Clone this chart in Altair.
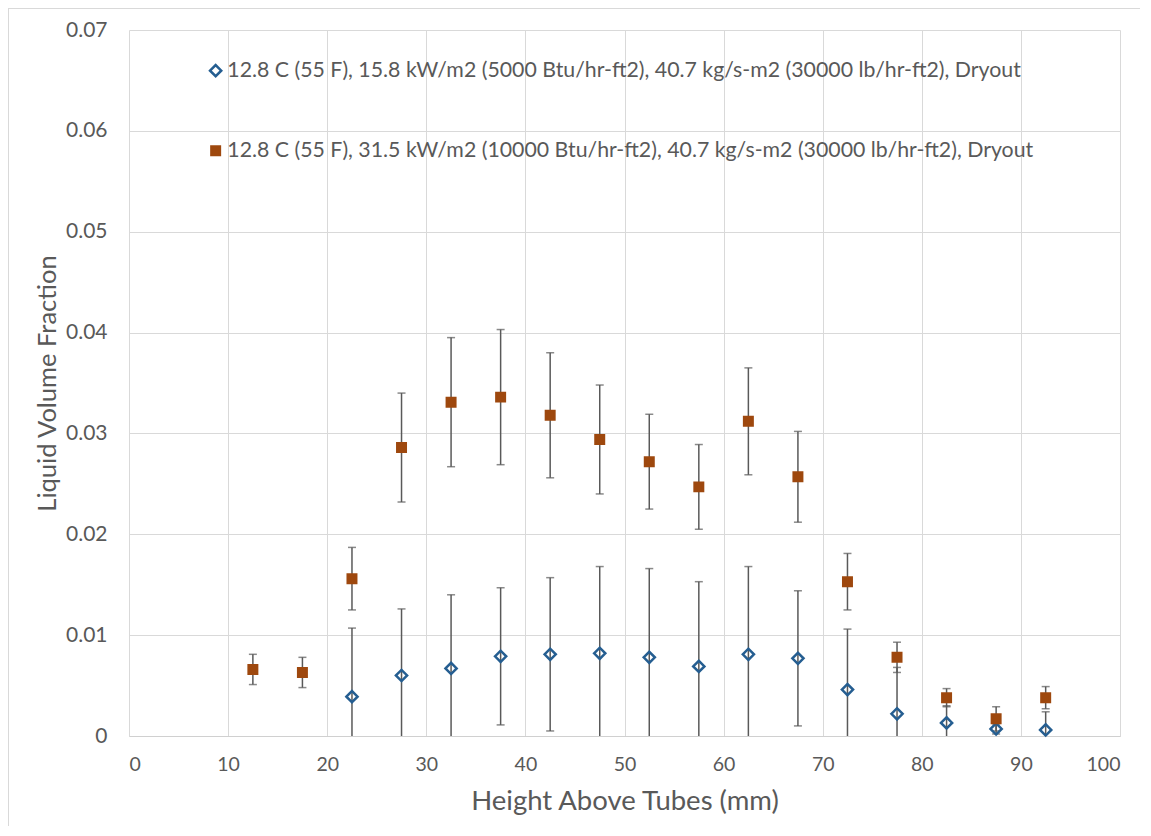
import altair as alt
import pandas as pd

# ---- data ----
series_names = [
    "12.8 C (55 F), 15.8 kW/m2 (5000 Btu/hr-ft2), 40.7 kg/s-m2 (30000 lb/hr-ft2), Dryout",
    "12.8 C (55 F), 31.5 kW/m2 (10000 Btu/hr-ft2), 40.7 kg/s-m2 (30000 lb/hr-ft2), Dryout",
]

x_blue = [22.5, 27.5, 32.5, 37.5, 42.5, 47.5, 52.5, 57.5, 62.5, 67.5, 72.5, 77.5, 82.5, 87.5, 92.5]
y_blue = [0.0039, 0.0060, 0.0067, 0.0079, 0.0081, 0.0082, 0.0078, 0.0069, 0.0081, 0.0077,
          0.0046, 0.0022, 0.0013, 0.0007, 0.0006]
err_blue = [0.0068, 0.0066, 0.0073, 0.0068, 0.0076, 0.0086, 0.0088, 0.0084, 0.0087, 0.0067,
            0.0060, 0.0046, 0.0017, 0.0005, 0.0018]

x_orange = [12.5, 17.5, 22.5, 27.5, 32.5, 37.5, 42.5, 47.5, 52.5, 57.5, 62.5, 67.5,
            72.5, 77.5, 82.5, 87.5, 92.5]
y_orange = [0.0066, 0.0063, 0.0156, 0.0286, 0.0331, 0.0336, 0.0318, 0.0294, 0.0272, 0.0247,
            0.0312, 0.0257, 0.0153, 0.0078, 0.0038, 0.0017, 0.0038]
err_orange = [0.0015, 0.0015, 0.0031, 0.0054, 0.0064, 0.0067, 0.0062, 0.0054, 0.0047, 0.0042,
              0.0053, 0.0045, 0.0028, 0.0015, 0.0009, 0.0012, 0.0011]

x_ticks = [0, 10, 20, 30, 40, 50, 60, 70, 80, 90, 100]
y_ticks = [0, 0.01, 0.02, 0.03, 0.04, 0.05, 0.06, 0.07]

colors = ["#255e91", "#9e480e"]
fills = ["transparent", "#9e480e"]
shapes = ["diamond", "square"]
sizes = [125, 72]

FONT = "Lato"
GRAY = "#595959"

df = pd.concat([
    pd.DataFrame({"series": series_names[0], "x": x_blue, "y": y_blue, "err": err_blue}),
    pd.DataFrame({"series": series_names[1], "x": x_orange, "y": y_orange, "err": err_orange}),
], ignore_index=True)

xscale = alt.Scale(domain=[0, 100], nice=False)
yscale = alt.Scale(domain=[0, 0.07], nice=False)

X = alt.X("x:Q", scale=xscale,
          axis=alt.Axis(values=x_ticks, title="Height Above Tubes (mm)", format="d",
                        titleFontSize=27.5, titlePadding=14))
Y = alt.Y("y:Q", scale=yscale,
          axis=alt.Axis(values=y_ticks, title="Liquid Volume Fraction",
                        titleFontSize=25.5, titlePadding=5,
                        labelExpr="datum.value == 0 ? '0' : format(datum.value, '.2f')"))

base = alt.Chart(df).transform_calculate(
    lo="datum.y - datum.err", hi="datum.y + datum.err"
)

rules = base.mark_rule(color=GRAY, strokeWidth=1.5, clip=True).encode(
    x=alt.X("x:Q", scale=xscale),
    y=alt.Y("lo:Q", scale=yscale),
    y2="hi:Q",
)
cap_hi = base.mark_tick(color=GRAY, thickness=1.5, size=8, orient="horizontal", clip=True).encode(
    x=alt.X("x:Q", scale=xscale), y=alt.Y("hi:Q", scale=yscale))
cap_lo = base.mark_tick(color=GRAY, thickness=1.5, size=8, orient="horizontal", clip=True).encode(
    x=alt.X("x:Q", scale=xscale), y=alt.Y("lo:Q", scale=yscale))

legend = alt.Legend(
    title=None, orient="none", legendX=76, legendY=30, padding=0,
    rowPadding=57, labelOffset=1, labelLimit=2000,
    labelFont=FONT, labelFontSize=21.3, labelColor=GRAY, symbolStrokeWidth=2.5,
)

points = base.mark_point(opacity=1, strokeWidth=2.5).encode(
    x=X, y=Y,
    shape=alt.Shape("series:N", scale=alt.Scale(domain=series_names, range=shapes), legend=legend),
    stroke=alt.Stroke("series:N", scale=alt.Scale(domain=series_names, range=colors), legend=legend),
    fill=alt.Fill("series:N", scale=alt.Scale(domain=series_names, range=fills), legend=legend),
    size=alt.Size("series:N", scale=alt.Scale(domain=series_names, range=sizes), legend=legend),
)

# chart-area border (top and left edges)
border_top = alt.Chart(df).mark_rule(color="#d9d9d9", strokeWidth=1).encode(
    x=alt.value(-121), x2=alt.value(1030), y=alt.value(-21.5))
border_left = alt.Chart(df).mark_rule(color="#d9d9d9", strokeWidth=1).encode(
    x=alt.value(-120.5), y=alt.value(-22), y2=alt.value(820))

chart = alt.layer(border_top, border_left, rules, cap_hi, cap_lo, points).properties(
    width=991, height=706,
    autosize=alt.AutoSizeParams(type="none"),
    padding={"left": 121, "top": 22, "right": 20, "bottom": 90},
    background="white",
).configure_view(stroke=None).configure_axis(
    grid=True, gridColor="#d9d9d9", gridWidth=1, ticks=False,
    labelFont=FONT, labelColor=GRAY,
    titleFont=FONT, titleColor=GRAY, titleFontWeight="normal",
).configure_axisY(
    domain=False, labelPadding=22, labelFontSize=21,
).configure_axisX(
    domain=True, domainColor="#d0d0d0", domainWidth=1, labelPadding=19,
    labelFontSize=19.5,
)

chart.save("out.html", embed_options={"renderer": "svg", "actions": False})
